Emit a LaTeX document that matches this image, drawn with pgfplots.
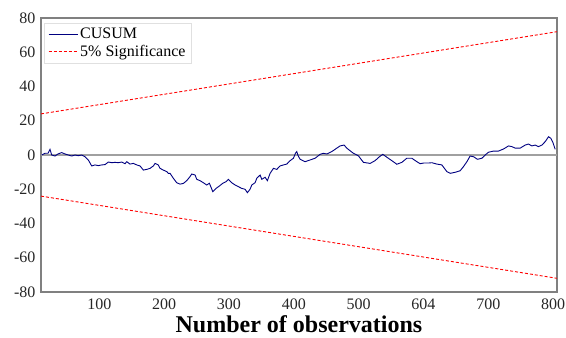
\documentclass[border=0pt]{standalone}
\usepackage{pgfplots}
\pgfplotsset{compat=1.18}
\usepackage{fontspec}
\setmainfont{Liberation Serif}
\definecolor{navyc}{HTML}{000080}
\definecolor{framec}{HTML}{808080}
\definecolor{zeroc}{HTML}{A0A0A0}
\begin{document}
\begin{tikzpicture}
\path[use as bounding box] (-41bp,-46bp) rectangle (525bp,292bp);
\begin{axis}[
  at={(0,0)}, anchor=south west,
  scale only axis, width=516bp, height=274bp,
  xmin=10, xmax=806, ymin=-80, ymax=80,
  xtick={100,200,300,400,500,600,700,800},
  xticklabels={100,200,300,400,500,604,700,800},
  ytick={-80,-60,-40,-20,0,20,40,60,80},
  yticklabels={-80,-60,-40,-20,0,20,40,60,80},
  major tick length=0pt,
  axis line style={framec, line width=1.5bp},
  tick label style={font=\fontsize{16bp}{19bp}\selectfont, text=black!85},
  xticklabel style={yshift=-3bp},
  yticklabel style={xshift=-2bp},
  xlabel={\textbf{Number of observations}},
  xlabel style={font=\fontsize{24bp}{28bp}\selectfont, at={(axis description cs:0.5,0)}, anchor=base, yshift=-40bp},
  legend style={at={(0.006,0.982)}, anchor=north west, draw=black!12, fill=white,
    font=\fontsize{16bp}{19bp}\selectfont, row sep=1bp, inner xsep=4bp, inner ysep=3bp},
  legend cell align=left,
  legend image code/.code={\draw[#1] (0bp,0bp) -- (29bp,0bp);},
  clip=true,
]
\addplot[zeroc, line width=2bp, forget plot] coordinates {(10,0) (806,0)};
\addplot[navyc, line width=0.9bp] coordinates {
(11.1,0) (16.2,1) (20.8,1) (23.9,3.3) (26.5,0) (31.6,-0.6) (36.2,0.6) (41.9,1.4)
(47.0,0.6) (52.1,0) (57.4,-0.6) (62.5,0) (67.6,-0.4) (72.8,0) (77.9,-1)
(83.0,-2.9) (88.2,-6.4) (93.3,-5.8) (98.4,-6.2) (103.7,-5.8) (108.8,-5.6)
(113.9,-4.1) (119.1,-4.5) (124.2,-4.3) (129.3,-4.5) (134.5,-4.1) (139.6,-5.1)
(142.3,-3.9) (147.3,-5.3) (152.4,-4.9) (157.7,-5.8) (162.8,-6.4) (167.9,-8.8)
(173.1,-8.4) (178.2,-7.8) (183.3,-6.4) (185.9,-4.9) (191.0,-5.8) (193.6,-7.8)
(198.7,-8.8) (204.0,-9.7) (206.5,-10.7) (209.1,-10.7) (214.2,-13.6) (219.4,-16.2)
(224.5,-17) (229.6,-16.6) (234.8,-15) (239.9,-12.6) (242.6,-11.1) (247.7,-11.7)
(250.3,-14.2) (255.4,-15) (260.5,-16.2) (265.7,-17.5) (269.8,-16.5) (275.0,-21.4)
(280.1,-19.5) (285.2,-18.1) (290.4,-16.5) (295.5,-15.6) (299.0,-14.2) (304.3,-16.2)
(309.4,-17.5) (314.5,-18.5) (319.7,-19.5) (324.8,-20) (328.4,-22) (332.5,-20)
(335.2,-17.5) (340.2,-16.2) (342.9,-13.6) (348.0,-11.7) (350.6,-14.2) (355.7,-13)
(359.2,-15) (363.4,-10.7) (368.5,-7.8) (373.7,-8.4) (378.8,-6.4) (383.9,-5.8)
(389.2,-5.3) (394.3,-3.3) (399.4,-1.9) (402.5,1) (404.6,2) (406.5,-0.3)
(409.7,-2.5) (417.4,-3.9) (425.1,-2.9) (432.8,-1.9) (440.6,0.4) (445.6,1)
(450.9,0.6) (458.6,2) (466.3,4) (471.4,5.3) (477.6,5.8) (481.7,4) (491.9,1)
(499.7,-0.5) (507.4,-4.3) (517.7,-4.9) (525.4,-3.3) (532.1,-1) (537.3,0.4)
(543.5,-1.3) (551.2,-3.3) (558.9,-5.4) (566.6,-4.3) (574.3,-1.9) (582.1,-1.9)
(589.8,-3.9) (594.9,-5.1) (600.0,-4.7) (607.7,-4.7) (612.9,-4.5) (620.6,-5.3)
(628.4,-5.8) (636.1,-9.7) (641.2,-10.7) (648.9,-10.1) (656.6,-9.2) (661.7,-6.8)
(667.0,-3.9) (672.0,-0.6) (677.2,-1) (683.3,-2.5) (690.1,-1.9) (695.2,0)
(700.3,1.6) (708.0,2.3) (715.7,2.3) (723.5,3.5) (731.2,5.3) (736.4,4.9)
(741.5,4) (749.2,4) (756.9,5.8) (762.0,6.4) (767.3,5.3) (772.3,5.8) (777.4,4.9)
(782.7,5.8) (787.8,7.8) (792.9,10.7) (796.6,9.7) (799.7,7.3) (803.2,3.3)
};
\addlegendentry{CUSUM}
\addplot[red, line width=0.9bp, dash pattern=on 3bp off 2bp] coordinates {(10,24) (806,72)};
\addlegendentry{5\% Significance}
\addplot[red, line width=0.9bp, dash pattern=on 3bp off 2bp, forget plot] coordinates {(10,-24) (806,-72)};
\end{axis}
\end{tikzpicture}
\end{document}
